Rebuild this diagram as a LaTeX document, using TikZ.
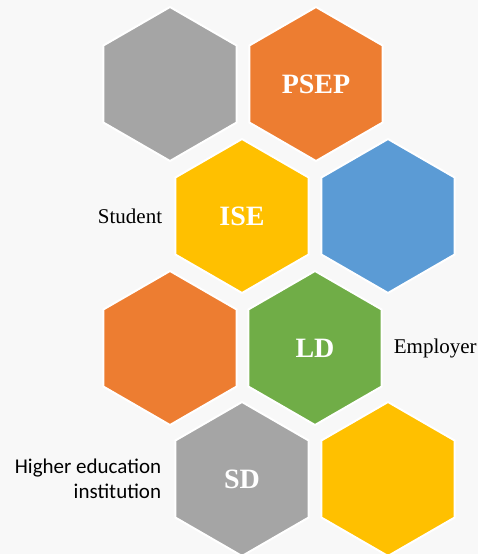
\documentclass[tikz,border=0pt]{standalone}
\usepackage{fontspec}
\setmainfont{Liberation Serif}
\newfontfamily\labelsans{Carlito}
\usepackage{xcolor}
\usepackage{tikz}
\usetikzlibrary{shapes.geometric, positioning}

\definecolor{hexgray}{HTML}{A5A5A5}
\definecolor{hexorange}{HTML}{ED7D31}
\definecolor{hexyellow}{HTML}{FFC000}
\definecolor{hexblue}{HTML}{5B9BD5}
\definecolor{hexgreen}{HTML}{70AD47}
\definecolor{bgpaper}{HTML}{F8F8F8}

\begin{document}
\begin{tikzpicture}[
    x=1pt, y=-1pt,
    hexa/.style={regular polygon, regular polygon sides=6, shape border rotate=30,
        minimum size=154pt, inner sep=0pt, outer sep=0pt, draw=white, line width=2pt,
        text=white, font=\fontsize{28}{30}\selectfont\bfseries},
    party/.style={font=\fontsize{21}{24}\selectfont, text=black, inner sep=0pt}
]

% Background
\fill [bgpaper] (0,0) rectangle (478,554);
\useasboundingbox (0,0) rectangle (478,554);
\clip (0,0) rectangle (478,554);

% Top row
\node [hexa, fill=hexgray] (topgray) at (170,84) {};
\node [hexa, fill=hexorange] (psep) at (316,84) {PSEP};

% Second row
\node [hexa, fill=hexyellow] (ise) at (242,216) {ISE};
\node [hexa, fill=hexblue] (blue) at (388,216) {};

% Third row
\node [hexa, fill=hexorange] (midorange) at (170,348) {};
\node [hexa, fill=hexgreen] (ld) at (315,348) {LD};

% Bottom row
\node [hexa, fill=hexgray] (sd) at (242,479) {SD};
\node [hexa, fill=hexyellow] (lowyellow) at (388,479) {};

% Side labels
\node [party, left=13pt of ise.west] (student) {Student};
\node [party, right=12pt of ld.east] (employer) {Employer};
\node [party, left=14pt of sd.west, align=right,
    font=\labelsans\fontsize{21}{25}\selectfont] (hei) {Higher education\\institution};

\end{tikzpicture}
\end{document}
